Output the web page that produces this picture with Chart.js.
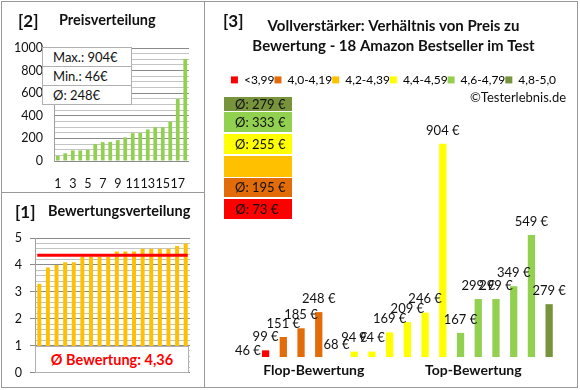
<!DOCTYPE html>
<html lang="de">
<head>
<meta charset="utf-8">
<title>Vollverstärker: Preis zu Bewertung</title>
<script src="https://cdn.jsdelivr.net/npm/chart.js@4.4.1/dist/chart.umd.min.js"></script>
<style>
  html, body { margin: 0; padding: 0; background: #fff; }
  body { width: 580px; height: 390px; position: relative; overflow: hidden; font-family: Lato, 'Open Sans', sans-serif; color: #111; }
  .box { position: absolute; }
  .line { position: absolute; background: #999; }
  .txt { position: absolute; white-space: nowrap; line-height: 1; }
  .num { font-weight: bold; font-size: 17px; }
  .head { font-weight: bold; font-size: 14.5px; }
  #infoBox { position: absolute; left: 42px; top: 47px; width: 88px; background: #fff; border: 1px solid #b0b0b0; font-size: 13px; }
  #infoBox div { height: 18px; line-height: 18px; padding-left: 10px; }
  #infoBox div + div { border-top: 1px solid #b0b0b0; }
  #ratingBox { position: absolute; left: 35px; top: 346px; width: 154px; height: 27px; background: #fff; border: 1px solid #b0b0b0; box-sizing: border-box;
    color: #ff0000; font-weight: bold; font-size: 14.5px; text-align: center; line-height: 25px; }
  .avg { position: absolute; left: 224px; width: 68px; font-size: 13px; padding-left: 11px; box-sizing: border-box; }
</style>
</head>
<body>

<div class="box" style="left:0;top:0;width:204px;height:192px"><canvas id="priceChart"></canvas></div>
<div class="box" style="left:0;top:192px;width:204px;height:196px"><canvas id="ratingChart"></canvas></div>
<div class="box" style="left:0;top:0;width:580px;height:390px"><canvas id="mainChart"></canvas></div>

<div class="line" style="left:1px;top:1px;width:577px;height:1px"></div>
<div class="line" style="left:1px;top:387px;width:577px;height:1px"></div>
<div class="line" style="left:1px;top:1px;width:1px;height:387px"></div>
<div class="line" style="left:577px;top:1px;width:1px;height:387px"></div>
<div class="line" style="left:204px;top:1px;width:1px;height:387px"></div>
<div class="line" style="left:1px;top:192px;width:204px;height:1px"></div>

<div class="txt num" style="left:18px;top:12px">[2]</div>
<div class="txt head" style="left:59px;top:13px">Preisverteilung</div>
<div class="txt num" style="left:15px;top:203px">[1]</div>
<div class="txt head" style="left:48px;top:204px">Bewertungsverteilung</div>
<div class="txt num" style="left:223px;top:12px">[3]</div>
<div class="txt" style="left:470px;top:91px;font-size:13px">©Testerlebnis.de</div>

<div id="infoBox"></div>
<div id="ratingBox"></div>
<div id="avgBoxes"></div>

<script>
// Preisverteilung (sorted prices of the 18 products)
const rankLabels = ['1', '2', '3', '4', '5', '6', '7', '8', '9', '10', '11', '12', '13', '14', '15', '16', '17', '18'];
const sortedPrices = [46, 68, 94, 94, 99, 151, 167, 169, 185, 209, 246, 248, 279, 299, 299, 349, 549, 904];
const priceStats = ['Max.: 904€', 'Min.: 46€', 'Ø: 248€'];

// Bewertungsverteilung
const sortedRatings = [3.3, 3.9, 4.0, 4.1, 4.1, 4.3, 4.3, 4.3, 4.3, 4.5, 4.5, 4.5, 4.6, 4.6, 4.6, 4.6, 4.7, 4.8];
const AVG_RATING = 4.36;
const avgRatingText = 'Ø Bewertung: 4,36';

// Preis zu Bewertung
const groupLabels = ['<3,99', '4,0-4,19', '4,2-4,39', '4,4-4,59', '4,6-4,79', '4,8-5,0'];
const groupColors = ['#FF0000', '#E26B0A', '#FFC000', '#FFFF00', '#92D050', '#77933C'];
const groupAverages = [73, 195, null, 255, 333, 279];
const productPrices = [46, 99, 151, 185, 248, 68, 94, 94, 169, 209, 246, 904, 167, 299, 299, 349, 549, 279];
const productGroup = [0, 0, 1, 1, 1, 2, 3, 3, 3, 3, 3, 3, 4, 4, 4, 4, 4, 5];
const sideLabels = ['Flop-Bewertung', 'Top-Bewertung'];
const PRICE_AXIS_MIN = 73;
const PRICE_AXIS_MAX = 1091;

const TEXT = '#111';
const FONT = 'Lato';

function isMultiple(v, step) {
  const q = v / step;
  return Math.abs(q - Math.round(q)) < 1e-6;
}

// ---------- overlays ----------
document.getElementById('infoBox').innerHTML = priceStats.map(s => `<div>${s}</div>`).join('');
document.getElementById('ratingBox').textContent = avgRatingText;

// avg boxes, best group on top
const avgTops = [199, 178, 156, 134, 112, 97];
const avgHeights = [20, 19, 21, 20, 20, 14];
document.getElementById('avgBoxes').innerHTML = groupColors.map((c, i) => {
  const txt = groupAverages[i] != null ? `Ø: ${groupAverages[i]} €` : '';
  return `<div class="avg" style="top:${avgTops[i]}px;height:${avgHeights[i]}px;line-height:${avgHeights[i]}px;background:${c}">${txt}</div>`;
}).join('');

// ---------- [2] Preisverteilung ----------
new Chart(document.getElementById('priceChart'), {
  type: 'bar',
  data: {
    labels: rankLabels,
    datasets: [{ data: sortedPrices, backgroundColor: '#92D050', barPercentage: 0.5, categoryPercentage: 1 }]
  },
  options: {
    responsive: true,
    maintainAspectRatio: false,
    animation: false,
    layout: { padding: { top: 48, right: 15, left: 0, bottom: 0 } },
    plugins: { legend: { display: false }, tooltip: { enabled: false } },
    scales: {
      x: {
        grid: { display: false, drawTicks: false },
        border: { display: false },
        ticks: {
          autoSkip: false, maxRotation: 0, padding: 15, color: TEXT, font: { family: FONT, size: 12.5 },
          callback: (v, i) => (i % 2 === 0 ? rankLabels[i] : '')
        },
        afterFit: s => { s.height = 31; }
      },
      y: {
        min: 0, max: 1000,
        grid: { color: c => (isMultiple(c.tick.value, 200) ? '#8a8a8a' : '#c4c4c4'), drawTicks: false, tickLength: 0 },
        border: { display: true, color: '#a0a0a0' },
        ticks: {
          stepSize: 50, autoSkip: false, padding: 11, color: TEXT, font: { family: FONT, size: 12.5 },
          callback: v => (isMultiple(v, 200) ? v : '')
        },
        afterFit: s => { s.width = 54; }
      }
    }
  }
});

// ---------- [1] Bewertungsverteilung ----------
const avgLinePlugin = {
  id: 'avgLine',
  afterDatasetsDraw(chart) {
    const { ctx, scales: { x, y } } = chart;
    const py = y.getPixelForValue(AVG_RATING);
    ctx.save();
    ctx.strokeStyle = '#FF0000';
    ctx.lineWidth = 3;
    ctx.beginPath();
    ctx.moveTo(x.getPixelForValue(0) - 2, py);
    ctx.lineTo(x.getPixelForValue(sortedRatings.length - 1) + 2, py);
    ctx.stroke();
    ctx.restore();
  }
};

new Chart(document.getElementById('ratingChart'), {
  type: 'bar',
  data: {
    labels: rankLabels,
    datasets: [{ data: sortedRatings, backgroundColor: '#FFC000', barPercentage: 0.46, categoryPercentage: 1 }]
  },
  options: {
    responsive: true,
    maintainAspectRatio: false,
    animation: false,
    layout: { padding: { top: 46, right: 14, left: 0, bottom: 15 } },
    plugins: { legend: { display: false }, tooltip: { enabled: false } },
    scales: {
      x: { display: false },
      y: {
        min: 0, max: 5,
        grid: {
          color: c => (isMultiple(c.tick.value, 1) ? '#8a8a8a' : '#c4c4c4'),
          tickColor: c => (isMultiple(c.tick.value, 1) ? '#8a8a8a' : 'rgba(0,0,0,0)'),
          tickLength: 5
        },
        border: { display: true, color: '#a0a0a0' },
        ticks: {
          stepSize: 0.2, autoSkip: false, padding: 8, color: TEXT, font: { family: FONT, size: 12.5 },
          callback: v => (isMultiple(v, 1) ? Math.round(v) : '')
        },
        afterFit: s => { s.width = 35; }
      }
    }
  },
  plugins: [avgLinePlugin]
});

// ---------- [3] Preis zu Bewertung ----------
const priceLabelPlugin = {
  id: 'priceLabels',
  afterDatasetsDraw(chart) {
    const { ctx } = chart;
    const meta = chart.getDatasetMeta(0);
    ctx.save();
    ctx.font = `13px ${FONT}`;
    ctx.fillStyle = TEXT;
    ctx.textAlign = 'center';
    ctx.textBaseline = 'middle';
    meta.data.forEach((bar, i) => {
      ctx.fillText(`${productPrices[i]} €`, bar.x, bar.y - 13.5);
    });
    ctx.restore();
  }
};

const hiddenAxis = {
  grid: { display: false, drawTicks: false },
  border: { display: false },
  ticks: { display: false }
};

new Chart(document.getElementById('mainChart'), {
  type: 'bar',
  data: {
    labels: rankLabels,
    datasets: [{
      data: productPrices,
      backgroundColor: productGroup.map(g => groupColors[g]),
      barPercentage: 0.41,
      categoryPercentage: 1
    }]
  },
  options: {
    responsive: true,
    maintainAspectRatio: false,
    animation: false,
    layout: { padding: { left: 222, right: 15, top: 0, bottom: 0 } },
    plugins: {
      tooltip: { enabled: false },
      title: {
        display: true,
        text: ['Vollverstärker: Verhältnis von Preis zu', 'Bewertung - 18 Amazon Bestseller im Test'],
        color: TEXT,
        font: { family: FONT, size: 15, weight: 'bold', lineHeight: 1.33 },
        padding: { top: 16, bottom: 18 }
      },
      legend: {
        position: 'top',
        onClick: null,
        labels: {
          boxWidth: 7, boxHeight: 7, padding: 0, color: TEXT, font: { family: FONT, size: 12 },
          generateLabels: () => groupLabels.map((t, i) => ({
            text: t, fillStyle: groupColors[i], strokeStyle: groupColors[i], lineWidth: 0, hidden: false, index: i
          }))
        }
      }
    },
    scales: {
      x: { display: false },
      x2: {
        type: 'category',
        labels: sideLabels,
        offset: true,
        position: 'bottom',
        grid: { display: false, drawTicks: false },
        border: { display: false },
        ticks: { padding: 5, labelOffset: -5, color: TEXT, font: { family: FONT, size: 14, weight: 'bold' } },
        afterFit: s => { s.height = 33; }
      },
      y: { ...hiddenAxis, min: PRICE_AXIS_MIN, max: PRICE_AXIS_MAX, afterFit: s => { s.width = 17; } },
      y2: { ...hiddenAxis, type: 'linear', position: 'right', min: PRICE_AXIS_MIN, max: PRICE_AXIS_MAX, afterFit: s => { s.width = 7; } }
    }
  },
  plugins: [priceLabelPlugin]
});
</script>
</body>
</html>
